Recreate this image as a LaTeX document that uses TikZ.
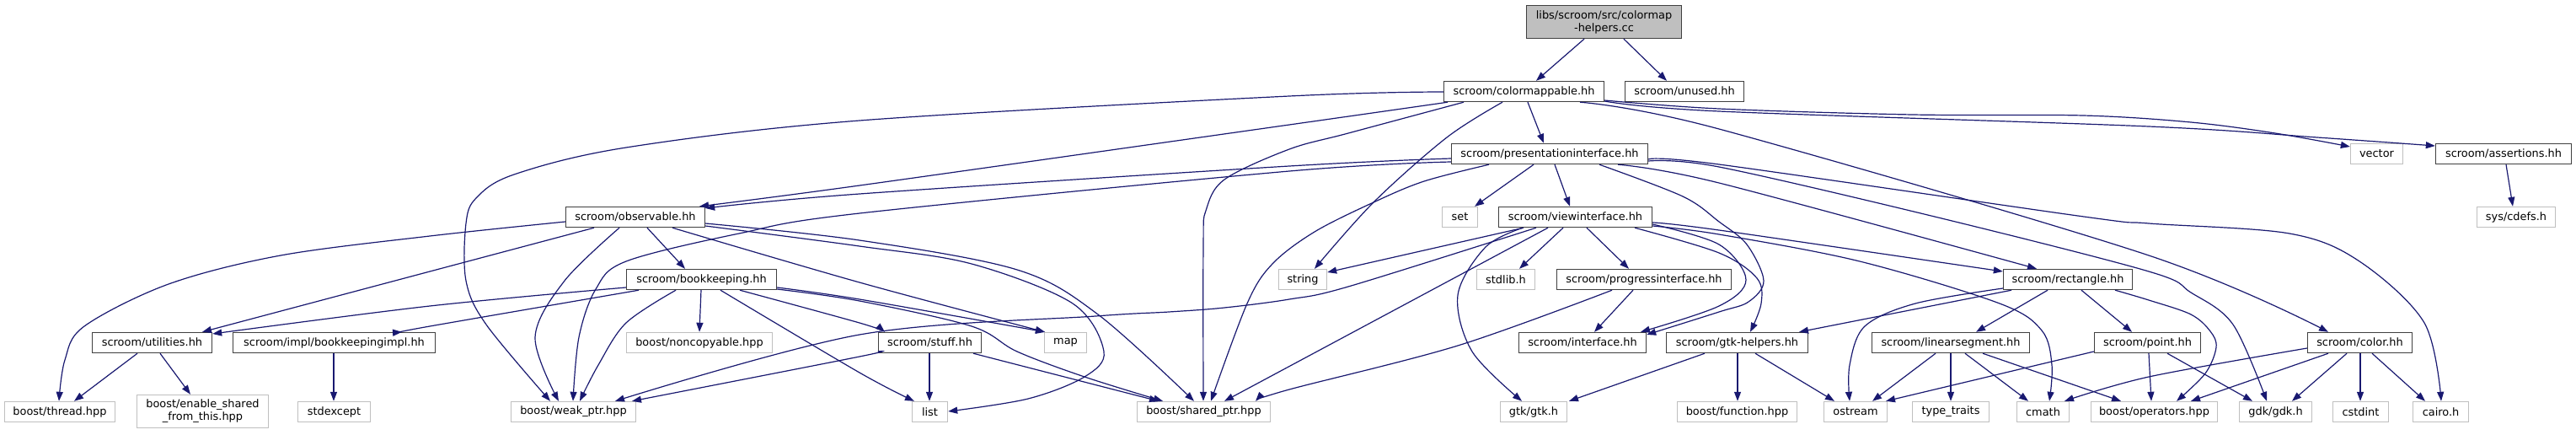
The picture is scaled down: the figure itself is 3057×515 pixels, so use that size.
\documentclass[tikz,border=0pt]{standalone}
\usepackage{fontspec}
\setmainfont{DejaVu Sans}
\usetikzlibrary{arrows.meta}
\definecolor{eb}{HTML}{191970}
\definecolor{db}{HTML}{404040}
\definecolor{lb}{HTML}{BFBFBF}
\begin{document}
\begin{tikzpicture}[x=1pt,y=-1pt,
  nd/.style={draw=db, line width=1.4pt, fill=white, minimum height=24pt, inner sep=0pt, font=\fontsize{12.9}{15}\selectfont},
  lf/.style={nd, draw=lb},
  e/.style={draw=eb, line width=1.2pt, -{Triangle[length=11pt,width=8pt]}},
  sm/.style={smooth, tension=0.55}]
\useasboundingbox (0,0) rectangle (3057,515);
% row 0
\node[nd, fill=lb, minimum width=184pt, minimum height=39pt, align=center] (root) at (1903.5,26) {libs/scroom/src/colormap\\-helpers.cc};
% row 1
\node[nd, minimum width=190pt] (cmap) at (1808.5,108.5) {scroom/colormappable.hh};
\node[nd, minimum width=141pt] (unused) at (1999,108.5) {scroom/unused.hh};
% row 2
\node[nd, minimum width=233pt] (pres) at (1839,182.5) {scroom/presentationinterface.hh};
\node[lf, minimum width=62pt] (vector) at (2820.5,182.5) {vector};
\node[nd, minimum width=161pt] (assert) at (2971,182.5) {scroom/assertions.hh};
% row 3
\node[nd, minimum width=165pt] (obs) at (754,257.5) {scroom/observable.hh};
\node[lf, minimum width=42pt] (set) at (1732.5,257.5) {set};
\node[nd, minimum width=182pt] (view) at (1869.5,257.5) {scroom/viewinterface.hh};
\node[lf, minimum width=93pt] (cdefs) at (2986,257.5) {sys/cdefs.h};
% row 4
\node[nd, minimum width=178pt] (book) at (832.5,331.5) {scroom/bookkeeping.hh};
\node[lf, minimum width=57pt] (string) at (1546,331.5) {string};
\node[lf, minimum width=69pt] (stdlib) at (1787,331.5) {stdlib.h};
\node[nd, minimum width=207pt] (prog) at (1951,331.5) {scroom/progressinterface.hh};
\node[nd, minimum width=153pt] (rect) at (2454,331.5) {scroom/rectangle.hh};
% row 5
\node[nd, minimum width=142pt] (util) at (180.5,406.5) {scroom/utilities.hh};
\node[nd, minimum width=240pt] (bki) at (396.5,406.5) {scroom/impl/bookkeepingimpl.hh};
\node[lf, minimum width=173pt] (noncopy) at (830,406.5) {boost/noncopyable.hpp};
\node[nd, minimum width=122pt] (stuff) at (1103.5,406.5) {scroom/stuff.hh};
\node[lf, minimum width=50pt] (map) at (1264.5,406.5) {map};
\node[nd, minimum width=151pt] (iface) at (1878,406.5) {scroom/interface.hh};
\node[nd, minimum width=168pt] (gtkh) at (2061.5,406.5) {scroom/gtk-helpers.hh};
\node[nd, minimum width=187pt] (linseg) at (2315,406.5) {scroom/linearsegment.hh};
\node[nd, minimum width=126pt] (point) at (2548.5,406.5) {scroom/point.hh};
\node[nd, minimum width=124pt] (color) at (2800.5,406.5) {scroom/color.hh};
% row 6
\node[lf, minimum width=131pt] (thread) at (71,488.5) {boost/thread.hpp};
\node[lf, minimum width=156pt, minimum height=39pt, align=center] (enable) at (240.5,488) {boost/enable\_shared\\\_from\_this.hpp};
\node[lf, minimum width=86pt] (stdexc) at (396.5,488.5) {stdexcept};
\node[lf, minimum width=148pt] (weak) at (680.5,488.5) {boost/weak\_ptr.hpp};
\node[lf, minimum width=42pt] (list) at (1103.5,488.5) {list};
\node[lf, minimum width=158pt] (shared) at (1428.5,488.5) {boost/shared\_ptr.hpp};
\node[lf, minimum width=79pt] (gtk) at (1820,488.5) {gtk/gtk.h};
\node[lf, minimum width=142pt] (func) at (2061.5,488.5) {boost/function.hpp};
\node[lf, minimum width=75pt] (ostream) at (2202,488.5) {ostream};
\node[lf, minimum width=91pt] (typet) at (2315,488.5) {type\_traits};
\node[lf, minimum width=62pt] (cmath) at (2424.5,488.5) {cmath};
\node[lf, minimum width=150pt] (oper) at (2556.5,488.5) {boost/operators.hpp};
\node[lf, minimum width=86pt] (gdk) at (2700.5,488.5) {gdk/gdk.h};
\node[lf, minimum width=66pt] (cstdint) at (2801.5,488.5) {cstdint};
\node[lf, minimum width=66pt] (cairo) at (2896.5,488.5) {cairo.h};

% edges
\draw[e] (1880,0 |- root.south) -- (1823,0 |- cmap.north);
\draw[e] (1927,0 |- root.south) -- (1978,0 |- unused.north);
\draw[e] (1813,0 |- cmap.south) -- (1832,0 |- pres.north);
\draw[e] plot[sm] coordinates {(1718,0 |- cmap.south) (1530,148) (1020,220) (830,0 |- obs.north)};
\draw[e] plot[sm] coordinates {(pres.west |- 0,188) (1530,197) (1020,230) (obs.east |- 0,247)};
\draw[e] plot[sm] coordinates {(cmap.west |- 0,109) (1530,114) (1020,143) (743,175) (610,207) (565,235) (553,265) (553,333) (577,385) (653,0 |- weak.north)};
\draw[e] plot[sm] coordinates {(1737,0 |- cmap.south) (1600,158) (1530,177) (1453,213) (1431,250) (1428,290) (1428,0 |- shared.north)};
\draw[e] plot[sm] coordinates {(1783,0 |- cmap.south) (1717,163) (1630,240) (1560,0 |- string.north)};
\draw[e] plot[sm] coordinates {(cmap.east |- 0,119) (2040,129) (2270,136) (2472,137) (2600,145) (2700,158) (vector.west |- 0,174)};
\draw[e] plot[sm] coordinates {(cmap.east |- 0,120) (2040,132) (2550,150) (2750,163) (assert.west |- 0,173)};
\draw[e] plot[sm] coordinates {(1875,0 |- cmap.south) (2040,153) (2550,303) (2763,0 |- color.north)};
\draw[e] plot[sm] coordinates {(pres.west |- 0,192) (1530,203) (1020,253) (877,277) (743,310) (707,343) (687,400) (680,0 |- weak.north)};
\draw[e] plot[sm] coordinates {(1767,0 |- pres.south) (1690,215) (1630,240) (1560,275) (1510,313) (1480,360) (1437,0 |- shared.north)};
\draw[e] (1820,0 |- pres.south) -- (1750,0 |- set.north);
\draw[e] (1845,0 |- pres.south) -- (1863,0 |- view.north);
\draw[e] plot[sm] coordinates {(1920,0 |- pres.south) (2040,217) (2417,0 |- rect.north)};
\draw[e] plot[sm] coordinates {(pres.east |- 0,191) (2040,198) (2300,258) (2550,322) (2600,347) (2650,385) (2690,0 |- gdk.north)};
\draw[e] plot[sm] coordinates {(pres.east |- 0,189) (2040,195) (2473,257) (2550,265) (2717,277) (2800,310) (2877,383) (2897,0 |- cairo.north)};
\draw[e] plot[sm] coordinates {(1898,0 |- pres.south) (1997,233) (2040,263) (2073,290) (2093,333) (2075,358) (2040,370) (iface.east |- 0,397)};
\draw[e] plot[sm] coordinates {(view.east |- 0,266) (2040,290) (2072,332) (2040,363) (1947,0 |- iface.north)};
\draw[e] plot[sm] coordinates {(1940,0 |- view.south) (2040,300) (2085,330) (2090,360) (2077,0 |- gtkh.north)};
\draw[e] plot[sm] coordinates {(view.east |- 0,264) (2040,273) (rect.west |- 0,322)};
\draw[e] plot[sm] coordinates {(view.east |- 0,268) (2040,278) (2207,310) (2373,360) (2423,392) (2435,433) (2432,0 |- cmath.north)};
\draw[e] (1808,0 |- view.south) -- (string.east |- 0,323);
\draw[e] plot[sm] coordinates {(1823,0 |- view.south) (1600,340) (1530,355) (1453,365) (1387,370) (1300,375) (1020,397) (730,0 |- weak.north)};
\draw[e] (1837,0 |- view.south) -- (1453,0 |- shared.north);
\draw[e] plot[sm] coordinates {(1807,0 |- view.south) (1763,293) (1730,350) (1747,417) (1806,0 |- gtk.north)};
\draw[e] (1855,0 |- view.south) -- (1803,0 |- stdlib.north);
\draw[e] (1883,0 |- view.south) -- (1933,0 |- prog.north);
\draw[e] (1938,0 |- prog.south) -- (1892,0 |- iface.north);
\draw[e] plot[sm] coordinates {(1913,0 |- prog.south) (1730,410) (1530,462) (1490,0 |- shared.north)};
\draw[e] plot[sm] coordinates {(obs.west |- 0,263) (510,280) (333,303) (200,337) (100,387) (77,427) (70,0 |- thread.north)};
\draw[e] (705,0 |- obs.south) -- (240,0 |- util.north);
\draw[e] plot[sm] coordinates {(735,0 |- obs.south) (670,333) (635,400) (663,0 |- weak.north)};
\draw[e] (768,0 |- obs.south) -- (813,0 |- book.north);
\draw[e] plot[sm] coordinates {(798,0 |- obs.south) (1020,335) (1240,0 |- map.north)};
\draw[e] plot[sm] coordinates {(obs.east |- 0,265) (1020,285) (1207,320) (1303,373) (1417,0 |- shared.north)};
\draw[e] plot[sm] coordinates {(obs.east |- 0,268) (1020,292) (1153,313) (1273,360) (1310,417) (1287,447) (1220,473) (list.east |- 0,488)};
\draw[e] plot[sm] coordinates {(book.west |- 0,341) (510,363) (util.east |- 0,396)};
\draw[e] plot[sm] coordinates {(758,0 |- book.south) (510,387) (477,0 |- bki.north)};
\draw[e] plot[sm] coordinates {(802,0 |- book.south) (743,383) (710,433) (688,0 |- weak.north)};
\draw[e] (832,0 |- book.south) -- (830,0 |- noncopy.north);
\draw[e] plot[sm] coordinates {(855,0 |- book.south) (1020,442) (1085,0 |- list.north)};
\draw[e] plot[sm] coordinates {(878,0 |- book.south) (1020,383) (1050,0 |- stuff.north)};
\draw[e] plot[sm] coordinates {(book.east |- 0,341) (1020,355) (1240,0 |- map.north)};
\draw[e] plot[sm] coordinates {(book.east |- 0,343) (1020,357) (1153,387) (1207,417) (1287,447) (1380,0 |- shared.north)};
\draw[e] (1103,0 |- stuff.south) -- (1103,0 |- list.north);
\draw[e] (1155,0 |- stuff.south) -- (1375,0 |- shared.north);
\draw[e] plot[sm] coordinates {(stuff.west |- 0,417) (1020,423) (750,0 |- weak.north)};
\draw[e] (163,0 |- util.south) -- (88,0 |- thread.north);
\draw[e] (190,0 |- util.south) -- (226,0 |- enable.north);
\draw[e] (396,0 |- bki.south) -- (396,0 |- stdexc.north);
\draw[e] (2387,0 |- rect.south) -- (2135,0 |- gtkh.north);
\draw[e] plot[sm] coordinates {(rect.west |- 0,342) (2273,360) (2213,387) (2195,433) (2195,0 |- ostream.north)};
\draw[e] (2430,0 |- rect.south) -- (2345,0 |- linseg.north);
\draw[e] (2470,0 |- rect.south) -- (2530,0 |- point.north);
\draw[e] plot[sm] coordinates {(2510,0 |- rect.south) (2550,356) (2600,373) (2623,393) (2630,412) (2617,443) (2583,0 |- oper.north)};
\draw[e] (2023,0 |- gtkh.south) -- (1862,0 |- gtk.north);
\draw[e] (2062,0 |- gtkh.south) -- (2062,0 |- func.north);
\draw[e] (2083,0 |- gtkh.south) -- (2177,0 |- ostream.north);
\draw[e] (2297,0 |- linseg.south) -- (2222,0 |- ostream.north);
\draw[e] (2315,0 |- linseg.south) -- (2315,0 |- typet.north);
\draw[e] (2332,0 |- linseg.south) -- (2407,0 |- cmath.north);
\draw[e] (2353,0 |- linseg.south) -- (2517,0 |- oper.north);
\draw[e] (point.west |- 0,417) -- (2238,0 |- ostream.north);
\draw[e] (2550,0 |- point.south) -- (2553,0 |- oper.north);
\draw[e] (2572,0 |- point.south) -- (2673,0 |- gdk.north);
\draw[e] plot[sm] coordinates {(color.west |- 0,413) (2550,447) (2450,0 |- cmath.north)};
\draw[e] (2763,0 |- color.south) -- (2600,0 |- oper.north);
\draw[e] (2785,0 |- color.south) -- (2720,0 |- gdk.north);
\draw[e] (2801,0 |- color.south) -- (2801,0 |- cstdint.north);
\draw[e] (2815,0 |- color.south) -- (2878,0 |- cairo.north);
\draw[e] (2974,0 |- assert.south) -- (2982,0 |- cdefs.north);
\end{tikzpicture}
\end{document}
